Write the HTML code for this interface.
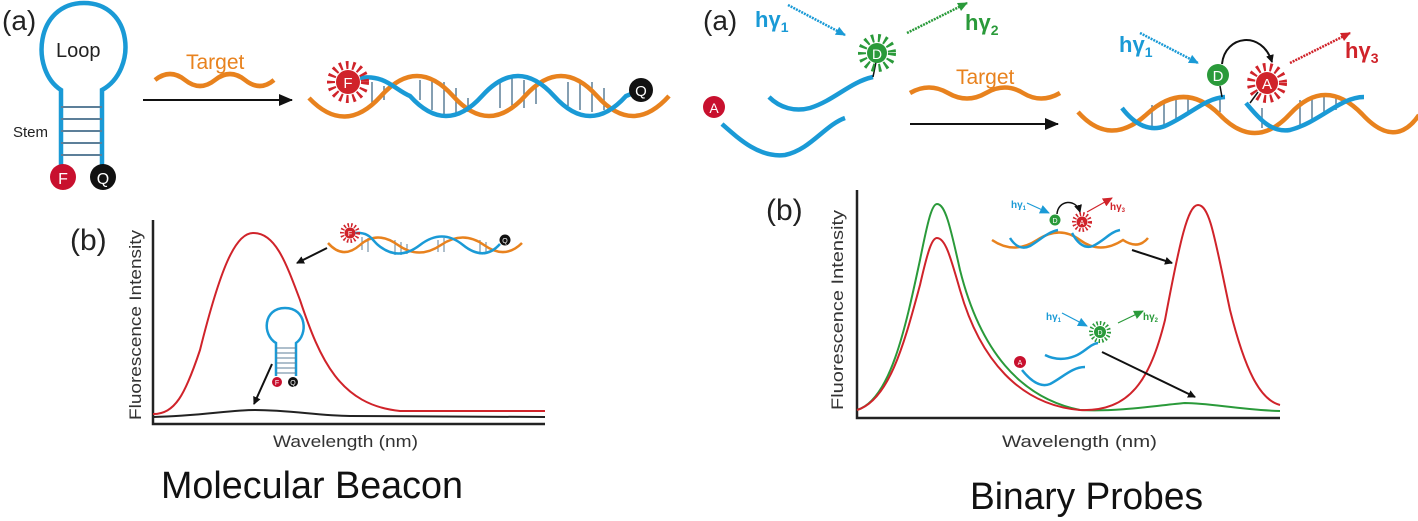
<!DOCTYPE html>
<html><head><meta charset="utf-8"><style>
html,body{margin:0;padding:0;background:#fff;}
svg{display:block;font-family:"Liberation Sans",sans-serif;}
</style></head><body>
<svg width="1418" height="521" viewBox="0 0 1418 521" xmlns="http://www.w3.org/2000/svg">
<defs>
<marker id="mk" markerWidth="8" markerHeight="8" refX="7" refY="4" orient="auto" markerUnits="userSpaceOnUse"><path d="M0,0 L8,4 L0,8z" fill="#111"/></marker>
<marker id="mkL" markerWidth="14" markerHeight="12" refX="13" refY="6" orient="auto" markerUnits="userSpaceOnUse"><path d="M0,0 L14,6 L0,12z" fill="#111"/></marker>
<marker id="mb" markerWidth="10" markerHeight="9" refX="9" refY="4.5" orient="auto" markerUnits="userSpaceOnUse"><path d="M0,0 L10,4.5 L0,9z" fill="#1a9ad6"/></marker>
<marker id="mg" markerWidth="10" markerHeight="9" refX="9" refY="4.5" orient="auto" markerUnits="userSpaceOnUse"><path d="M0,0 L10,4.5 L0,9z" fill="#2a9a3a"/></marker>
<marker id="mr" markerWidth="10" markerHeight="9" refX="9" refY="4.5" orient="auto" markerUnits="userSpaceOnUse"><path d="M0,0 L10,4.5 L0,9z" fill="#d0232a"/></marker>
</defs>

<!-- ===== LEFT (a) ===== -->
<text x="2" y="30" font-size="28" fill="#222">(a)</text>
<path d="M61,165 L61,90 C30,70 35,3 84,3 C133,3 138,70 102,90 L102,165" fill="none" stroke="#1a9ad6" stroke-width="4.5"/>
<g stroke="#5c7f99" stroke-width="2">
<line x1="61" y1="107" x2="102" y2="107"/><line x1="61" y1="119" x2="102" y2="119"/><line x1="61" y1="131" x2="102" y2="131"/><line x1="61" y1="143" x2="102" y2="143"/><line x1="61" y1="155" x2="102" y2="155"/>
</g>
<text x="56" y="57" font-size="20" fill="#222">Loop</text>
<text x="13" y="137" font-size="15" fill="#222">Stem</text>
<circle cx="63" cy="177" r="13" fill="#c8102e"/><text x="63" y="184" font-size="16" fill="#fff" text-anchor="middle">F</text>
<circle cx="103" cy="177" r="13" fill="#111"/><text x="103" y="184" font-size="16" fill="#fff" text-anchor="middle">Q</text>

<text x="186" y="69" font-size="21" fill="#e8821e">Target</text>
<path d="M155,80 Q170,68 185,80 T215,80 T245,80 T274,80" fill="none" stroke="#e8821e" stroke-width="4.5"/>
<line x1="143" y1="100" x2="292" y2="100" stroke="#111" stroke-width="2" marker-end="url(#mkL)"/>

<g stroke="#5c7f99" stroke-width="1.5">
<line x1="372" y1="82" x2="372" y2="106"/><line x1="384" y1="86" x2="384" y2="100"/><line x1="420" y1="80" x2="420" y2="100"/><line x1="432" y1="80" x2="432" y2="110"/><line x1="444" y1="82" x2="444" y2="114"/><line x1="456" y1="88" x2="456" y2="114"/><line x1="468" y1="98" x2="468" y2="112"/>
<line x1="500" y1="80" x2="500" y2="108"/><line x1="512" y1="78" x2="512" y2="110"/><line x1="524" y1="80" x2="524" y2="108"/><line x1="536" y1="85" x2="536" y2="104"/>
<line x1="568" y1="82" x2="568" y2="106"/><line x1="580" y1="80" x2="580" y2="110"/><line x1="592" y1="82" x2="592" y2="112"/><line x1="604" y1="88" x2="604" y2="110"/>
</g>
<path d="M309,98 Q345,136 381,96 T453,96 T525,96 T597,96 T669,96" fill="none" stroke="#e8821e" stroke-width="4.5"/>
<path d="M360,78 C385,74 395,90 410,96 Q446,136 482,96 T554,96 Q590,136 626,96 L641,90" fill="none" stroke="#1a9ad6" stroke-width="4.5"/>
<circle cx="348" cy="82" r="17" fill="none" stroke="#d0232a" stroke-width="8" stroke-dasharray="2.5 4"/>
<circle cx="348" cy="82" r="12" fill="#d0232a"/><text x="348" y="88" font-size="15" fill="#fff" text-anchor="middle">F</text>
<circle cx="641" cy="90" r="12" fill="#111"/><text x="641" y="96" font-size="15" fill="#fff" text-anchor="middle">Q</text>

<!-- ===== RIGHT (a) ===== -->
<text x="703" y="30" font-size="28" fill="#222">(a)</text>
<text x="755" y="27" font-size="22" fill="#1a9ad6" font-weight="bold">hγ<tspan font-size="14" dy="5">1</tspan></text>
<line x1="788" y1="5" x2="845" y2="35" stroke="#1a9ad6" stroke-width="2.5" stroke-dasharray="2 1" marker-end="url(#mb)"/>
<line x1="907" y1="33" x2="967" y2="3" stroke="#2a9a3a" stroke-width="2.5" stroke-dasharray="2 1" marker-end="url(#mg)"/>
<text x="965" y="30" font-size="22" fill="#2a9a3a" font-weight="bold">hγ<tspan font-size="14" dy="5">2</tspan></text>
<path d="M769,97 C780,108 795,112 810,108 C835,100 850,82 873,77" fill="none" stroke="#1a9ad6" stroke-width="4.5"/>
<line x1="873" y1="77" x2="876" y2="62" stroke="#111" stroke-width="1.5"/>
<circle cx="877" cy="53" r="15" fill="none" stroke="#2a9a3a" stroke-width="8" stroke-dasharray="2.5 4"/>
<circle cx="877" cy="53" r="10" fill="#2a9a3a"/><text x="877" y="59" font-size="14" fill="#fff" text-anchor="middle">D</text>
<path d="M722,124 C740,140 760,158 785,155 C810,150 825,125 845,118" fill="none" stroke="#1a9ad6" stroke-width="4.5"/>
<circle cx="714" cy="107" r="11" fill="#c8102e"/><text x="714" y="113" font-size="14" fill="#fff" text-anchor="middle">A</text>

<text x="956" y="84" font-size="21" fill="#e8821e">Target</text>
<path d="M910,93 Q929,82 948,93 T986,93 T1023,93 T1060,93" fill="none" stroke="#e8821e" stroke-width="4.5"/>
<line x1="910" y1="124" x2="1058" y2="124" stroke="#111" stroke-width="2" marker-end="url(#mkL)"/>

<text x="1119" y="52" font-size="22" fill="#1a9ad6" font-weight="bold">hγ<tspan font-size="14" dy="5">1</tspan></text>
<line x1="1140" y1="33" x2="1198" y2="63" stroke="#1a9ad6" stroke-width="2.5" stroke-dasharray="2 1" marker-end="url(#mb)"/>
<line x1="1290" y1="63" x2="1350" y2="33" stroke="#d0232a" stroke-width="2.5" stroke-dasharray="2 1" marker-end="url(#mr)"/>
<text x="1345" y="58" font-size="22" fill="#d0232a" font-weight="bold">hγ<tspan font-size="14" dy="5">3</tspan></text>
<path d="M1222,64 C1225,35 1262,30 1272,62" fill="none" stroke="#111" stroke-width="2" marker-end="url(#mk)"/>

<g stroke="#5c7f99" stroke-width="1.5">
<line x1="1152" y1="105" x2="1152" y2="128"/><line x1="1164" y1="100" x2="1164" y2="125"/><line x1="1176" y1="98" x2="1176" y2="120"/><line x1="1188" y1="97" x2="1188" y2="115"/><line x1="1220" y1="98" x2="1220" y2="112"/>
<line x1="1262" y1="108" x2="1262" y2="128"/><line x1="1300" y1="100" x2="1300" y2="128"/><line x1="1312" y1="97" x2="1312" y2="122"/><line x1="1324" y1="96" x2="1324" y2="116"/><line x1="1336" y1="97" x2="1336" y2="110"/>
</g>
<path d="M1078,112 Q1110,148 1147,114 T1219,114 Q1255,152 1290,114 T1362,114 Q1395,150 1419,115" fill="none" stroke="#e8821e" stroke-width="4.5"/>
<path d="M1122,108 C1135,125 1150,132 1165,126 C1190,115 1205,98 1225,97" fill="none" stroke="#1a9ad6" stroke-width="4.5"/>
<path d="M1246,103 C1260,120 1272,133 1290,130 C1320,122 1340,97 1364,97" fill="none" stroke="#1a9ad6" stroke-width="4.5"/>
<line x1="1222" y1="97" x2="1220" y2="86" stroke="#111" stroke-width="1.5"/>
<line x1="1250" y1="103" x2="1258" y2="92" stroke="#111" stroke-width="1.5"/>
<circle cx="1218" cy="75" r="11" fill="#2a9a3a"/><text x="1218" y="81" font-size="15" fill="#fff" text-anchor="middle">D</text>
<circle cx="1267" cy="83" r="16" fill="none" stroke="#d0232a" stroke-width="8" stroke-dasharray="2.5 4"/>
<circle cx="1267" cy="83" r="11" fill="#d0232a"/><text x="1267" y="89" font-size="15" fill="#fff" text-anchor="middle">A</text>

<!-- ===== LEFT (b) graph ===== -->
<text x="70" y="250" font-size="30" fill="#222">(b)</text>
<path d="M153,220 L153,424 L545,424" fill="none" stroke="#222" stroke-width="2.5"/>
<text transform="translate(141,325) rotate(-90)" font-size="17" fill="#333" text-anchor="middle" textLength="190" lengthAdjust="spacingAndGlyphs">Fluorescence Intensity</text>
<text x="273" y="447" font-size="17" fill="#333" textLength="145" lengthAdjust="spacingAndGlyphs">Wavelength (nm)</text>
<path d="M153,414 C175,414 185,395 200,350 C220,270 235,233 253,233 C275,233 285,260 300,300 C320,360 340,405 400,411 L545,411" fill="none" stroke="#d0232a" stroke-width="2"/>
<path d="M153,417 C200,416 230,410 255,410 C290,410 320,416 350,416 L545,417" fill="none" stroke="#222" stroke-width="2"/>
<!-- inset helix -->
<g stroke="#5c7f99" stroke-width="1"><line x1="362" y1="237" x2="362" y2="250"/><line x1="368" y1="238" x2="368" y2="252"/><line x1="395" y1="240" x2="395" y2="255"/><line x1="401" y1="242" x2="401" y2="255"/><line x1="407" y1="244" x2="407" y2="254"/><line x1="438" y1="240" x2="438" y2="252"/><line x1="444" y1="238" x2="444" y2="252"/><line x1="480" y1="240" x2="480" y2="254"/><line x1="486" y1="242" x2="486" y2="254"/></g>
<path d="M328,243 Q343,260 360,245 T398,245 T441,245 T484,245 T522,243" fill="none" stroke="#e8821e" stroke-width="2.5"/>
<path d="M355,233 C370,232 372,240 378,245 Q398,262 420,245 T463,245 Q484,262 500,244" fill="none" stroke="#1a9ad6" stroke-width="2.5"/>
<circle cx="350" cy="233" r="8" fill="none" stroke="#d0232a" stroke-width="4" stroke-dasharray="1.5 2"/>
<circle cx="350" cy="233" r="5.5" fill="#d0232a"/><text x="350" y="236" font-size="7" fill="#fff" text-anchor="middle">F</text>
<circle cx="505" cy="240" r="5.5" fill="#111"/><text x="505" y="243" font-size="7" fill="#fff" text-anchor="middle">Q</text>
<line x1="327" y1="248" x2="297" y2="263" stroke="#111" stroke-width="2" marker-end="url(#mk)"/>
<!-- inset hairpin -->
<path d="M276,376 L276,343 C262,335 263,308 285,308 C307,308 308,335 296,343 L296,376" fill="none" stroke="#1a9ad6" stroke-width="2.5"/>
<g stroke="#5c7f99" stroke-width="1"><line x1="276" y1="348" x2="296" y2="348"/><line x1="276" y1="353" x2="296" y2="353"/><line x1="276" y1="358" x2="296" y2="358"/><line x1="276" y1="363" x2="296" y2="363"/><line x1="276" y1="368" x2="296" y2="368"/><line x1="276" y1="373" x2="296" y2="373"/></g>
<circle cx="277" cy="382" r="5" fill="#c8102e"/><text x="277" y="385" font-size="7" fill="#fff" text-anchor="middle">F</text>
<circle cx="293" cy="382" r="5" fill="#111"/><text x="293" y="385" font-size="7" fill="#fff" text-anchor="middle">Q</text>
<line x1="272" y1="364" x2="254" y2="404" stroke="#111" stroke-width="2" marker-end="url(#mk)"/>

<!-- ===== RIGHT (b) graph ===== -->
<text x="766" y="220" font-size="30" fill="#222">(b)</text>
<path d="M857,190 L857,418 L1280,418" fill="none" stroke="#222" stroke-width="2.5"/>
<text transform="translate(843,310) rotate(-90)" font-size="17" fill="#333" text-anchor="middle" textLength="200" lengthAdjust="spacingAndGlyphs">Fluorescence Intensity</text>
<text x="1002" y="447" font-size="17" fill="#333" textLength="155" lengthAdjust="spacingAndGlyphs">Wavelength (nm)</text>
<path d="M857,410 C890,400 905,330 920,260 C928,220 932,204 937,204 C945,204 950,225 960,270 C980,350 1020,398 1080,410 C1120,412 1160,405 1185,403 C1210,403 1240,410 1280,411" fill="none" stroke="#2a9a3a" stroke-width="2"/>
<path d="M857,410 C890,400 905,340 920,285 C928,250 932,238 937,238 C945,238 950,255 960,290 C980,360 1020,405 1080,410 C1130,412 1150,380 1165,320 C1180,240 1188,205 1198,205 C1210,205 1215,240 1230,310 C1245,370 1260,400 1280,405" fill="none" stroke="#d0232a" stroke-width="2"/>
<!-- top inset -->
<text x="1011" y="208" font-size="10" fill="#1a9ad6" font-weight="bold">hγ<tspan font-size="6" dy="2">1</tspan></text>
<line x1="1027" y1="203" x2="1049" y2="213" stroke="#1a9ad6" stroke-width="1.2" marker-end="url(#mb)"/>
<text x="1110" y="210" font-size="10" fill="#d0232a" font-weight="bold">hγ<tspan font-size="6" dy="2">3</tspan></text>
<line x1="1087" y1="212" x2="1112" y2="198" stroke="#d0232a" stroke-width="1.2" marker-end="url(#mr)"/>
<path d="M1057,214 C1058,200 1076,198 1080,212" fill="none" stroke="#111" stroke-width="1.5" marker-end="url(#mk)"/>
<path d="M992,240 Q1014,255 1037,240 T1080,240 T1123,240 Q1138,250 1148,238" fill="none" stroke="#e8821e" stroke-width="2.5"/>
<path d="M1010,238 C1015,246 1022,250 1030,246 C1040,240 1048,232 1058,230" fill="none" stroke="#1a9ad6" stroke-width="2.5"/>
<path d="M1072,233 C1078,244 1085,249 1093,246 C1105,240 1110,232 1120,230" fill="none" stroke="#1a9ad6" stroke-width="2.5"/>
<circle cx="1082" cy="222" r="8" fill="none" stroke="#d0232a" stroke-width="4" stroke-dasharray="1.5 2"/>
<circle cx="1082" cy="222" r="5.5" fill="#d0232a"/><text x="1082" y="225" font-size="7" fill="#fff" text-anchor="middle">A</text>
<circle cx="1055" cy="220" r="5.5" fill="#2a9a3a"/><text x="1055" y="223" font-size="7" fill="#fff" text-anchor="middle">D</text>
<line x1="1132" y1="250" x2="1172" y2="263" stroke="#111" stroke-width="2" marker-end="url(#mk)"/>
<!-- bottom inset -->
<text x="1046" y="320" font-size="10" fill="#1a9ad6" font-weight="bold">hγ<tspan font-size="6" dy="2">1</tspan></text>
<line x1="1062" y1="313" x2="1087" y2="326" stroke="#1a9ad6" stroke-width="1.2" marker-end="url(#mb)"/>
<line x1="1118" y1="323" x2="1143" y2="311" stroke="#2a9a3a" stroke-width="1.2" marker-end="url(#mg)"/>
<text x="1143" y="320" font-size="10" fill="#2a9a3a" font-weight="bold">hγ<tspan font-size="6" dy="2">2</tspan></text>
<path d="M1045,355 C1055,360 1065,360 1075,356 C1085,352 1090,344 1098,343" fill="none" stroke="#1a9ad6" stroke-width="2.5"/>
<circle cx="1100" cy="332" r="9" fill="none" stroke="#2a9a3a" stroke-width="4" stroke-dasharray="1.5 2"/>
<circle cx="1100" cy="332" r="6" fill="#2a9a3a"/><text x="1100" y="335" font-size="7" fill="#fff" text-anchor="middle">D</text>
<path d="M1022,370 C1030,380 1040,388 1050,384 C1062,378 1072,367 1085,367" fill="none" stroke="#1a9ad6" stroke-width="2.5"/>
<circle cx="1020" cy="362" r="6" fill="#c8102e"/><text x="1020" y="365" font-size="7" fill="#fff" text-anchor="middle">A</text>
<line x1="1102" y1="352" x2="1195" y2="397" stroke="#111" stroke-width="2" marker-end="url(#mk)"/>

<!-- titles -->
<text x="161" y="498" font-size="38" fill="#111" textLength="302" lengthAdjust="spacingAndGlyphs">Molecular Beacon</text>
<text x="970" y="509" font-size="38" fill="#111" textLength="233" lengthAdjust="spacingAndGlyphs">Binary Probes</text>
</svg>
</body></html>
